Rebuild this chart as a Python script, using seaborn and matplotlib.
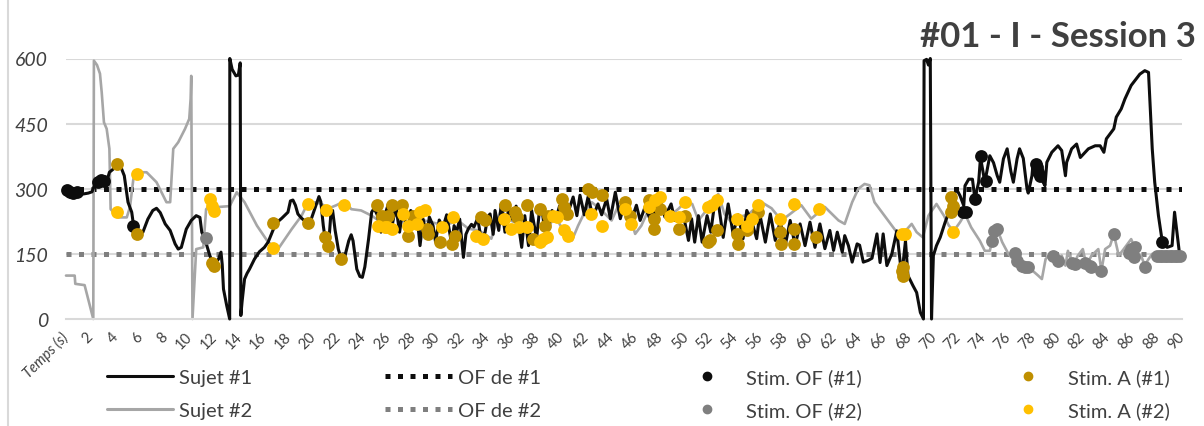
import matplotlib
matplotlib.use("Agg")
import matplotlib.pyplot as plt
from matplotlib.lines import Line2D
import numpy as np
import pandas as pd
import seaborn as sns

# --- data --------------------------------------------------------------------
sujet1_t = [0, 0.3, 0.6, 1.0, 1.4, 1.8, 2.1, 2.3, 2.6, 3.0, 3.3, 3.5, 3.8, 4.0, 4.4, 4.7, 5.0, 5.3,
            5.45, 5.7, 6.2, 6.6, 7.0, 7.3, 7.6, 8.0, 8.4, 8.8, 9.05, 9.3, 9.7, 10.1, 10.5, 10.8,
            10.95, 11.2, 11.6, 11.9, 12.3, 12.5, 12.6, 12.7, 12.96, 13.2, 13.21, 13.4, 13.7, 13.9,
            14.05, 14.1, 14.2, 14.4, 14.6, 14.8, 15.2, 15.6, 16.0, 16.3, 16.7, 17.0, 17.4, 17.9,
            18.1, 18.3, 18.5, 18.7, 19.0, 19.5, 19.8, 20.1, 20.4, 20.55, 20.75, 20.9, 21.15, 21.35,
            21.5, 21.7, 21.96, 22.2, 22.5, 22.8, 23.0, 23.15, 23.45, 23.7, 23.9, 24.1, 24.4, 24.65,
            24.85, 25.1, 25.4, 25.7, 26.0, 26.3, 26.6, 26.9, 27.2, 27.5, 27.8, 28.1, 28.3, 28.55,
            28.8, 29.1, 29.3, 29.6, 29.8, 30.1, 30.4, 30.7, 31.1, 31.3, 31.5, 31.75, 32.05, 32.25,
            32.45, 32.7, 32.9, 33.2, 33.5, 33.8, 34.0, 34.2, 34.45, 34.6, 34.9, 35.1, 35.4, 35.7,
            36.0, 36.3, 36.5, 36.75, 37.0, 37.3, 37.55, 37.95, 38.2, 38.4, 38.6, 38.9, 39.2, 39.5,
            39.8, 40.1, 40.5, 40.9, 41.2, 41.45, 41.8, 42.1, 42.5, 42.9, 43.2, 43.6, 43.9, 44.3,
            44.7, 45.0, 45.2, 45.6, 46.0, 46.3, 46.7, 47.1, 47.3, 47.6, 48.0, 48.3, 48.8, 49.1,
            49.4, 49.8, 50.2, 50.45, 50.7, 51.0, 51.3, 51.7, 52.0, 52.3, 52.6, 53.0, 53.4, 53.8,
            54.2, 54.6, 54.9, 55.3, 55.7, 55.95, 56.4, 56.8, 57.2, 57.6, 58.0, 58.4, 58.8, 59.2,
            59.6, 60.0, 60.4, 60.8, 61.2, 61.6, 61.9, 62.2, 62.6, 62.8, 63.1, 63.4, 63.8, 64.0,
            64.3, 64.7, 65.0, 65.4, 65.65, 65.9, 66.2, 66.6, 67.0, 67.2, 67.4, 67.7, 67.9, 68.3,
            68.6, 68.9, 69.15, 69.2, 69.4, 69.55, 69.7, 69.8, 69.95, 70.2, 70.5, 70.9, 71.3, 71.6,
            71.8, 72.1, 72.4, 72.5, 72.8, 73.1, 73.3, 73.6, 73.75, 74.1, 74.5, 74.8, 75.1, 75.3,
            75.6, 75.9, 76.2, 76.4, 76.7, 76.9, 77.2, 77.5, 77.6, 77.9, 78.0, 78.4, 78.8, 78.95,
            79.1, 79.5, 80.0, 80.3, 80.6, 80.7, 81.1, 81.5, 81.8, 82.45, 83.0, 83.4, 83.7, 83.9,
            84.5, 84.7, 85.1, 85.4, 85.9, 86.6, 87.0, 87.3, 87.6, 87.8, 88.1, 88.4, 88.8, 89.2,
            89.4, 89.8]
sujet1_v = [303, 295, 288, 290, 288, 290, 293, 308, 318, 322, 318, 338, 345, 357, 352, 330, 269, 246,
            215, 196, 200, 230, 250, 255, 245, 219, 204, 173, 161, 165, 207, 227, 238, 234,
            200, 184, 146, 125, 138, 154, 125, 69, 31, 0, 600, 575, 560, 562,
            590, 8, 40, 92, 105, 115, 138, 155, 165, 177, 205, 222, 232, 246,
            272, 274, 262, 242, 232, 220, 232, 257, 282, 270, 215, 184, 160, 238,
            250, 205, 161, 138, 146, 180, 194, 180, 115, 98, 96, 120, 184, 246,
            255, 240, 200, 238, 265, 215, 260, 200, 258, 190, 250, 240, 238, 169,
            230, 190, 235, 215, 178, 228, 211, 240, 173, 215, 200, 230, 142, 195,
            208, 218, 212, 232, 180, 200, 235, 242, 195, 250, 204, 265, 200, 255,
            230, 260, 215, 165, 238, 169, 250, 185, 255, 250, 204, 208, 250, 230,
            260, 269, 246, 281, 238, 285, 240, 281, 235, 265, 240, 277, 231, 292,
            231, 262, 269, 227, 262, 227, 258, 230, 255, 235, 265, 235, 265, 227,
            230, 238, 181, 231, 177, 238, 177, 238, 200, 265, 269, 188, 265, 196,
            240, 185, 250, 225, 185, 242, 177, 242, 181, 225, 169, 227, 169, 219,
            169, 223, 165, 219, 162, 204, 158, 200, 154, 192, 169, 131, 173, 170,
            131, 135, 140, 196, 130, 196, 123, 150, 203, 150, 100, 180, 100, 77,
            61, 15, 0, 595, 598, 585, 600, 0, 146, 169, 188, 223, 253, 284,
            300, 284, 261, 307, 322, 322, 276, 315, 372, 315, 376, 360, 330, 315,
            369, 392, 340, 315, 369, 392, 370, 300, 290, 330, 361, 357, 315, 307,
            361, 384, 399, 388, 330, 361, 392, 403, 372, 392, 399, 399, 384, 415,
            438, 465, 484, 507, 538, 564, 572, 568, 392, 315, 238, 180, 165, 169,
            246, 150]

sujet2_t = [0, 0.7, 0.75, 1.5, 2.2, 2.25, 2.5, 2.74, 2.88, 3.06, 3.28, 3.5, 3.6, 4.2, 4.9, 5.16,
            5.43, 5.7, 6.5, 7.3, 8.1, 8.4, 8.65, 9.05, 9.6, 9.94, 10.05, 10.1, 10.2, 10.5, 11.07,
            11.3, 11.5, 12.3, 13.2, 13.77, 14.4, 15.4, 16.3, 17.1, 18.2, 19.0, 19.4, 20.1, 20.6,
            21.2, 21.8, 22.5, 23.0, 23.8, 24.65, 25.2, 25.6, 26.0, 26.8, 27.6, 28.4, 29.5, 30.5,
            31.6, 32.45, 33.3, 34.3, 34.7, 35.1, 35.6, 36.5, 37.6, 38.4, 39.0, 39.4, 40.2, 40.8,
            41.3, 41.9, 42.4, 43.2, 44.0, 44.5, 45.2, 45.9, 46.4, 47.2, 47.9, 48.6, 49.4, 49.9,
            50.5, 51.0, 51.5, 52.0, 52.6, 53.1, 53.6, 54.2, 55.0, 56.1, 56.9, 57.7, 58.4, 59.3,
            60.1, 61.2, 62.3, 62.8, 63.4, 63.9, 64.4, 64.8, 65.2, 65.8, 66.6, 67.1, 67.6, 68.2,
            68.6, 69.1, 69.55, 70.2, 70.8, 71.2, 71.6, 72.1, 72.5, 73.0, 73.7, 74.1, 74.5, 74.8,
            75.1, 75.5, 76.0, 76.5, 77.1, 77.6, 78.0, 78.4, 78.7, 79.0, 79.5, 79.9, 80.3, 80.6,
            80.8, 81.2, 81.6, 82.0, 82.3, 82.7, 83.25, 83.5, 83.8, 84.2, 84.5, 84.9, 85.3, 85.9,
            86.3, 86.75, 87.0, 87.3, 87.6, 89.8]
sujet2_v = [100, 100, 81, 78, 0, 595, 585, 565, 522, 453, 438, 392, 253, 234, 234, 258,
            322, 338, 338, 315, 269, 269, 392, 407, 438, 461, 507, 560, 0, 161, 165,
            253, 258, 258, 260, 292, 269, 215, 177, 161, 207, 238, 261, 269, 265,
            255, 262, 272, 253, 250, 238, 227, 232, 238, 238, 246, 230, 223, 215,
            227, 208, 204, 185, 220, 254, 230, 219, 192, 188, 215, 238, 200, 181,
            215, 250, 269, 250, 227, 258, 265, 196, 215, 265, 255, 235, 254, 269,
            265, 227, 245, 260, 288, 242, 225, 235, 240, 269, 255, 227, 242, 262,
            231, 258, 227, 219, 269, 300, 311, 308, 269, 246, 215, 196, 200, 219,
            200, 188, 238, 265, 238, 215, 203, 223, 242, 211, 180, 157, 157, 192,
            207, 177, 150, 134, 119, 115, 110, 100, 92, 138, 153, 130, 146, 123,
            157, 123, 146, 161, 123, 146, 161, 111, 161, 169, 196, 146, 161, 184,
            157, 142, 123, 138, 150, 150]

of_sujet1 = 300
of_sujet2 = 150

stim_of1_t = [0.1, 0.35, 0.6, 0.9, 2.6, 2.85, 3.1, 5.4, 72.3, 72.6, 73.3, 73.8, 74.2,
              78.2, 78.3, 78.4, 78.55, 88.4]
stim_of1_v = [298, 292, 290, 292, 316, 320, 318, 215, 246, 246, 276, 376, 319,
              357, 350, 338, 330, 178]

stim_a1_t = [4.1, 5.7, 11.75, 11.9, 16.7, 19.5, 20.9, 21.15, 22.2, 25.05, 25.45, 26.0, 26.3,
             27.1, 27.6, 28.0, 29.1, 29.2, 30.2, 31.1, 31.4, 33.5, 33.8, 35.4, 36.2, 36.35,
             37.15, 37.7, 38.2, 38.6, 38.9, 40.0, 40.2, 40.4, 42.1, 42.4, 43.2, 45.1, 45.5,
             47.0, 47.4, 47.4, 47.9, 49.4, 49.9, 51.8, 51.9, 52.5, 54.1, 54.2, 54.9, 55.8,
             57.6, 57.7, 58.7, 58.7, 60.5, 67.4, 67.5, 67.5, 71.4, 71.5, 71.4]
stim_a1_v = [357, 196, 130, 123, 222, 222, 188, 169, 138, 262, 238, 238, 262,
             262, 192, 238, 208, 196, 177, 173, 192, 235, 227, 262, 246, 235,
             262, 185, 254, 215, 238, 277, 258, 242, 300, 292, 285, 269, 238,
             273, 231, 208, 254, 208, 238, 177, 181, 204, 196, 173, 204, 246,
             200, 173, 208, 173, 188, 111, 100, 119, 280, 261, 246]

stim_of2_t = [11.27, 74.7, 74.8, 75.1, 76.5, 76.7, 77.1, 77.3, 77.6, 79.6, 80.0, 81.1, 81.4,
              82.2, 82.6, 82.7, 83.5, 84.5, 85.7, 85.9, 86.1, 86.2, 87.0,
              88.0, 88.2, 88.4, 88.6, 88.8, 89.0, 89.2, 89.4, 89.6, 89.8]
stim_of2_v = [186, 180, 203, 207, 153, 134, 123, 119, 119, 146, 134, 130, 127,
              130, 123, 119, 111, 196, 153, 161, 142, 165, 119,
              146, 146, 146, 146, 146, 146, 146, 146, 146, 146]

stim_a2_t = [4.1, 5.7, 11.6, 11.75, 11.9, 16.7, 19.5, 21.0, 22.4, 25.2, 25.7, 25.9, 26.3,
             27.2, 27.6, 28.3, 28.55, 28.95, 30.3, 31.2, 33.1, 33.65, 35.3, 35.9, 36.5,
             37.2, 38.2, 38.5, 38.8, 39.3, 39.6, 40.2, 40.5, 42.3, 43.2, 45.1, 45.6, 47.0,
             47.5, 47.9, 48.7, 49.4, 49.9, 51.8, 52.1, 52.5, 54.1, 54.9, 55.3, 55.8, 57.6,
             58.7, 60.7, 67.4, 67.7, 71.5]
stim_a2_v = [247, 333, 276, 261, 249, 163, 265, 250, 262, 215, 212, 212, 208,
             242, 215, 219, 246, 250, 212, 235, 192, 185, 231, 208, 212,
             212, 177, 185, 188, 238, 235, 204, 192, 242, 215, 254, 219, 258,
             273, 281, 238, 235, 269, 258, 262, 273, 231, 215, 231, 262, 231,
             265, 254, 196, 196, 200]

x_ticks = list(range(0, 91, 2))
x_tick_labels = ["Temps (s)"] + [str(t) for t in x_ticks[1:]]
y_ticks = [0, 150, 300, 450, 600]
title = "#01 - I - Session 3"

# --- colours -------------------------------------------------------------------
C_S1 = "#0d0d0d"
C_S2 = "#a6a6a6"
C_OF2 = "#7f7f7f"
C_A1 = "#bf8f00"
C_A2 = "#ffc000"
C_GRID = "#d9d9d9"
C_TXT = "#404040"

sns.set_style("white")
plt.rcParams["font.family"] = ["Lato", "DejaVu Sans"]

fig = plt.figure(figsize=(12.04, 4.27), dpi=100)
ax = fig.add_axes([66 / 1204, 1 - 320 / 427, (1182 - 66) / 1204, (320 - 59.5) / 427])

for y in y_ticks[1:]:
    ax.axhline(y, color=C_GRID, lw=1.5, zorder=0)

dot = (0, (1, 1.5))
ax.axhline(of_sujet1, color=C_S1, lw=3.6, linestyle=dot, zorder=1)
ax.axhline(of_sujet2, color=C_OF2, lw=3.6, linestyle=dot, zorder=1)

df1 = pd.DataFrame({"t": sujet1_t, "v": sujet1_v})
df2 = pd.DataFrame({"t": sujet2_t, "v": sujet2_v})
sns.lineplot(data=df2, x="t", y="v", sort=False, estimator=None, color=C_S2, lw=1.9,
             ax=ax, zorder=2, clip_on=False)
sns.lineplot(data=df1, x="t", y="v", sort=False, estimator=None, color=C_S1, lw=2.2,
             ax=ax, zorder=3, clip_on=False)

ms = 85
for tt, vv, col, z in [(stim_of1_t, stim_of1_v, C_S1, 4), (stim_a1_t, stim_a1_v, C_A1, 5),
                       (stim_of2_t, stim_of2_v, C_OF2, 6), (stim_a2_t, stim_a2_v, C_A2, 7)]:
    sns.scatterplot(x=tt, y=vv, color=col, s=ms, linewidth=0, ax=ax, zorder=z, clip_on=False)

ax.set_xlim(0, 90)
ax.set_ylim(0, 600)
ax.set_xlabel("")
ax.set_ylabel("")
for s in ["top", "right", "left"]:
    ax.spines[s].set_visible(False)
ax.spines["bottom"].set_color(C_GRID)
ax.spines["bottom"].set_linewidth(1.5)

ax.set_yticks(y_ticks)
ax.set_yticklabels([str(y) for y in y_ticks], fontsize=14, style="italic", color=C_TXT)
ax.tick_params(axis="y", length=0, pad=13)

ax.set_xticks(x_ticks)
ax.set_xticklabels(x_tick_labels, rotation=45, ha="right", va="center",
                   rotation_mode="anchor", fontsize=10.5, color=C_TXT)
ax.get_xticklabels()[0].set_style("italic")
ax.tick_params(axis="x", length=5, width=1.2, color=C_GRID, direction="out", pad=6)

fig.text(1196 / 1204, 1 - 37 / 427, title, ha="right", va="center", fontsize=25,
         fontweight="bold", color=C_TXT)

fig.add_artist(Line2D([8 / 1204, 8 / 1204], [0, 1], color=C_GRID, lw=1.5))

handles = [
    Line2D([], [], color=C_S1, lw=2.2),
    Line2D([], [], color=C_S2, lw=2.2),
    Line2D([], [], color=C_S1, lw=3.6, linestyle=dot),
    Line2D([], [], color=C_OF2, lw=3.6, linestyle=dot),
    Line2D([], [], color=C_S1, lw=0, marker="o", markersize=6),
    Line2D([], [], color=C_OF2, lw=0, marker="o", markersize=6),
    Line2D([], [], color=C_A1, lw=0, marker="o", markersize=6),
    Line2D([], [], color=C_A2, lw=0, marker="o", markersize=6),
]
labels = ["Sujet #1", "Sujet #2", "OF de #1", "OF de #2",
          "Stim. OF (#1)", "Stim. OF (#2)", "Stim. A (#1)", "Stim. A (#2)"]
leg = fig.legend(handles, labels, ncol=4, loc="center", bbox_to_anchor=(0.53, 0.075),
                 frameon=False, fontsize=14.5, handlelength=3.3, handletextpad=0.3,
                 columnspacing=6.6, labelspacing=0.75)
for txt in leg.get_texts():
    txt.set_color(C_TXT)

fig.savefig("out.png", dpi=100)
